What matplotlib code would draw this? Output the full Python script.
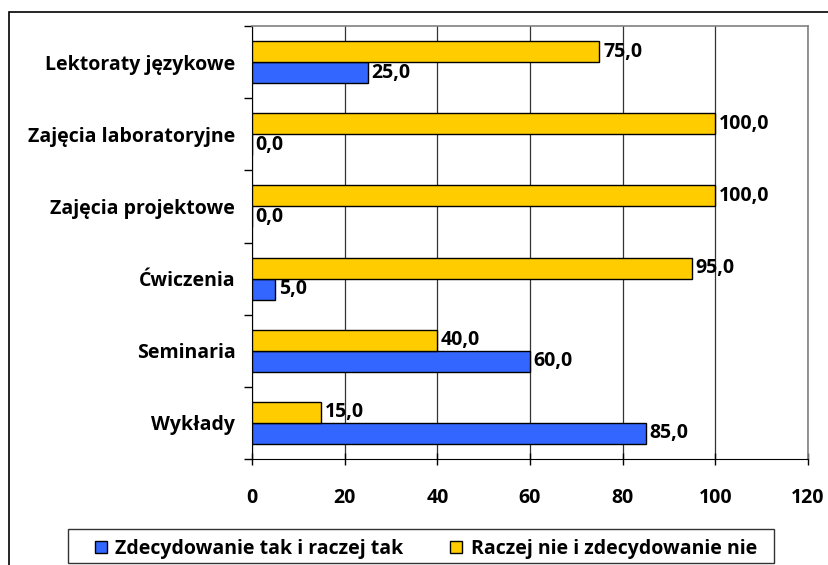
import matplotlib.pyplot as plt
import numpy as np
from matplotlib.patches import Rectangle

categories = ['Wykłady', 'Seminaria', 'Ćwiczenia', 'Zajęcia projektowe',
              'Zajęcia laboratoryjne', 'Lektoraty językowe']
tak = [85.0, 60.0, 5.0, 0.0, 0.0, 25.0]
nie = [15.0, 40.0, 95.0, 100.0, 100.0, 75.0]
series_names = ['Zdecydowanie tak i raczej tak', 'Raczej nie i zdecydowanie nie']
xticks = [0, 20, 40, 60, 80, 100, 120]

plt.rcParams['font.family'] = ['Open Sans', 'DejaVu Sans']
plt.rcParams['font.weight'] = 'bold'
fs = 14

fig = plt.figure(figsize=(8.29, 5.65), dpi=100)
# outer chart border
fig.patches.append(Rectangle((9 / 829, -0.1), 1.2, 1 - 12 / 565 + 0.1,
                             transform=fig.transFigure, fill=False,
                             edgecolor='black', lw=1.2))
# legend box
fig.patches.append(Rectangle((68 / 829, 2 / 565), (774 - 68) / 829, 34 / 565,
                             transform=fig.transFigure, fill=False,
                             edgecolor='#333333', lw=1.0))
ax = fig.add_axes([252 / 829, 1 - 459 / 565, 556 / 829, 433 / 565])

y = np.arange(len(categories))
h = 0.29
b1 = ax.barh(y - h / 2, tak, height=h, color='#3366FF', edgecolor='black', lw=1, zorder=3,
             label=series_names[0])
b2 = ax.barh(y + h / 2, nie, height=h, color='#FFCC00', edgecolor='black', lw=1, zorder=3,
             label=series_names[1])

for bars, vals in ((b1, tak), (b2, nie)):
    for bar, v in zip(bars, vals):
        ax.text(v + 0.8, bar.get_y() + bar.get_height() / 2,
                f'{v:.1f}'.replace('.', ','), va='center', ha='left',
                fontsize=fs, fontweight='bold', zorder=4)

ax.set_xlim(0, 120)
ax.set_ylim(-0.5, len(categories) - 0.5)
ax.set_xticks(xticks)
ax.set_xticklabels([str(t) for t in xticks], fontsize=fs, fontweight='bold')
ax.set_yticks(y)
ax.set_yticklabels(categories, fontsize=fs, fontweight='bold')
ax.set_yticks(np.arange(len(categories) + 1) - 0.5, minor=True)
ax.tick_params(axis='y', which='major', length=0, pad=12)
ax.tick_params(axis='y', which='minor', length=6, width=1, direction='out')
ax.tick_params(axis='x', length=8, width=1, direction='inout', pad=17)
ax.grid(axis='x', color='#333333', lw=0.9, zorder=1)
ax.set_axisbelow(True)
for s in ('top', 'right'):
    ax.spines[s].set_color('#808080')
    ax.spines[s].set_linewidth(1.2)
ax.spines['left'].set_color('black')
ax.spines['bottom'].set_color('black')

handles = [b1, b2]
leg = fig.legend(handles, series_names, loc='center',
                 bbox_to_anchor=((68 + 774) / 2 / 829 + 0.006, 16 / 565),
                 ncol=2, frameon=False,
                 prop={'weight': 'bold', 'size': fs}, handlelength=0.6,
                 handleheight=0.6, borderaxespad=0, columnspacing=2.4,
                 handletextpad=0.45, borderpad=0.2)

fig.savefig('out.png', dpi=100)
